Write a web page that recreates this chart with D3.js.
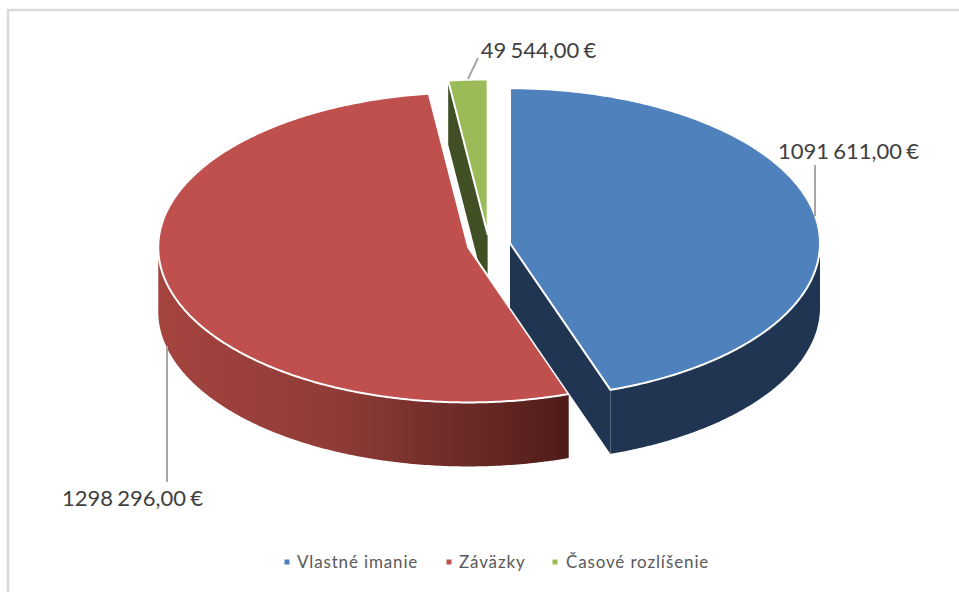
<!DOCTYPE html>
<html>
<head>
<meta charset="utf-8">
<script src="https://cdn.jsdelivr.net/npm/d3@7"></script>
<style>
  body { margin: 0; background: #fff; }
  text { font-family: Lato, "Open Sans", sans-serif; }
</style>
</head>
<body>
<div class="chart"></div>
<script>
var categories = ["Vlastné imanie", "Záväzky", "Časové rozlíšenie"];
var values = [1091611, 1298296, 49544];
var valueLabels = ["1091 611,00 €", "1298 296,00 €", "49 544,00 €"];
var topColors = ["#4F81BD", "#C0504D", "#9BBB59"];
var wallColors = ["#1F3552", "#7A302D", "#404F24"];

var svgWidth = 959;
var svgHeight = 592;

var cx = 489, cy = 245;      // pie centre before the slices are pulled apart
var rx = 310, ry = 155;      // ellipse of the tilted pie
var depth = 64;
var explode = 21.3;

var svg = d3.select(".chart")
    .append("svg")
    .attr("width", svgWidth)
    .attr("height", svgHeight)
    .style("display", "block");

// frame, only top and left are in the crop
svg.append("path")
    .attr("d", "M8,592V10H959")
    .attr("fill", "none")
    .attr("stroke", "#D9D9D9")
    .attr("stroke-width", 2.5);

// red outer wall fades left to right
var grad = svg.append("defs").append("linearGradient")
    .attr("id", "redWall")
    .attr("gradientUnits", "userSpaceOnUse")
    .attr("x1", 158).attr("x2", 568)
    .attr("y1", 0).attr("y2", 0);
grad.append("stop").attr("offset", "0%").attr("stop-color", "#A5443F");
grad.append("stop").attr("offset", "45%").attr("stop-color", "#8E3B37");
grad.append("stop").attr("offset", "100%").attr("stop-color", "#4F1C19");

var pie = d3.pie().sort(null);
var slices = pie(values);

var line = d3.line();

function centerOf(d) {
    var mid = (d.startAngle + d.endAngle) / 2;
    return [cx + explode * Math.sin(mid), cy - explode * Math.cos(mid) * ry / rx];
}

function point(c, a, dy) {
    return [c[0] + rx * Math.sin(a), c[1] - ry * Math.cos(a) + (dy || 0)];
}

function arcPoints(c, a0, a1, dy) {
    var pts = d3.range(a0, a1, 0.01).map(function(a) { return point(c, a, dy); });
    pts.push(point(c, a1, dy));
    return pts;
}

// draw back to front: green, then red, then blue
var order = [2, 1, 0];
var front0 = Math.PI / 2, front1 = 3 * Math.PI / 2;

order.forEach(function(i) {
    var d = slices[i];
    var c = centerOf(d);
    var g = svg.append("g").attr("class", "slice");
    var base = [c[0], c[1] + depth];

    // cut face on the visible side
    var cutAngle = i === 0 ? d.endAngle : (i === 2 ? d.startAngle : null);
    if (cutAngle !== null) {
        g.append("path")
            .attr("d", line([c, point(c, cutAngle), point(c, cutAngle, depth), base]) + "Z")
            .attr("fill", wallColors[i]);
    }

    // outer wall, only the part facing the viewer
    var a0 = Math.max(d.startAngle, front0), a1 = Math.min(d.endAngle, front1);
    if (a1 > a0) {
        var wall = arcPoints(c, a0, a1, 0).concat(arcPoints(c, a0, a1, depth).reverse());
        g.append("path")
            .attr("d", line(wall) + "Z")
            .attr("fill", i === 1 ? "url(#redWall)" : wallColors[i]);
    }

    // top
    var top = [c].concat(arcPoints(c, d.startAngle, d.endAngle, 0));
    g.append("path")
        .attr("d", line(top) + "Z")
        .attr("fill", topColors[i])
        .attr("stroke", "#fff")
        .attr("stroke-width", 2)
        .attr("stroke-linejoin", "round");
});

// leaders + value labels
var labelPos = [[848.5, 159], [132.5, 506], [538.5, 58]];
var leaders = [
    [[815, 216], [815, 165]],
    [[167, 346], [167, 482]],
    [[468, 79], [478, 58]]
];

svg.selectAll(".leader")
    .data(leaders)
    .enter()
    .append("path")
    .attr("class", "leader")
    .attr("d", function(d) { return line(d); })
    .attr("fill", "none")
    .attr("stroke", "#A6A6A6")
    .attr("stroke-width", 2);

svg.selectAll(".valueLabel")
    .data(valueLabels)
    .enter()
    .append("text")
    .attr("class", "valueLabel")
    .attr("x", function(d, i) { return labelPos[i][0]; })
    .attr("y", function(d, i) { return labelPos[i][1]; })
    .attr("text-anchor", "middle")
    .attr("font-size", 22)
    .attr("word-spacing", -1.5)
    .attr("fill", "#404040")
    .text(function(d) { return d; });

// legend
var legendX = [287, 449, 555];
var legend = svg.selectAll(".legendItem")
    .data(categories)
    .enter()
    .append("g")
    .attr("class", "legendItem")
    .attr("transform", function(d, i) { return "translate(" + legendX[i] + ",562)"; });

legend.append("rect")
    .attr("x", -2.5).attr("y", -2.5)
    .attr("width", 5).attr("height", 5)
    .attr("fill", function(d, i) { return topColors[i]; });

legend.append("text")
    .attr("x", function(d, i) { return i === 2 ? 11 : 10; })
    .attr("y", 6)
    .attr("font-size", 17)
    .attr("letter-spacing", 0.85)
    .attr("fill", "#595959")
    .text(function(d) { return d; });
</script>
</body>
</html>
